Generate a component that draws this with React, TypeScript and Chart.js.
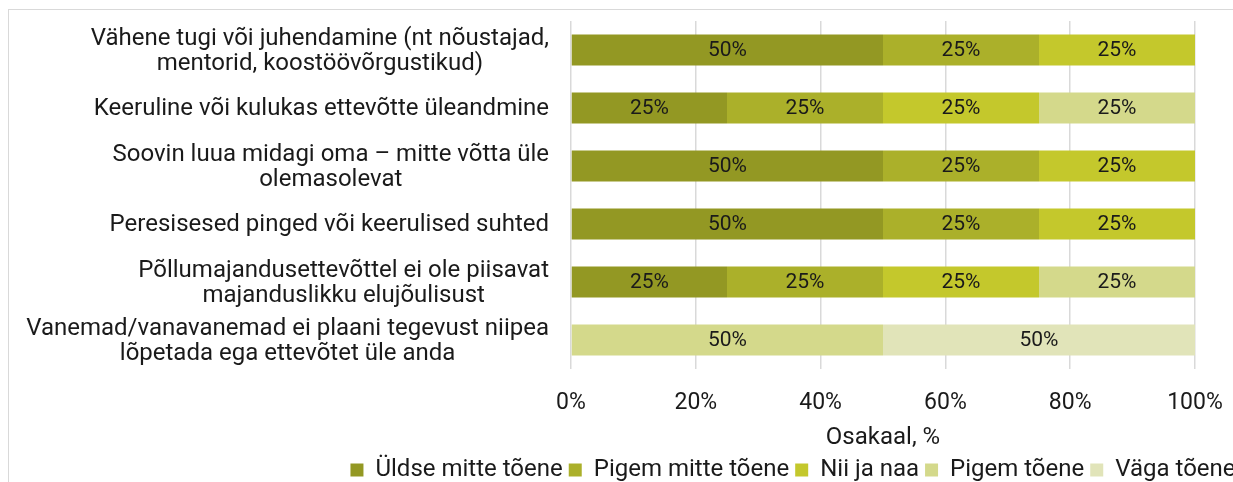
import React, { useEffect, useRef } from "react";
import { Chart, registerables } from "chart.js";

Chart.register(...registerables);

const categories: string[][] = [
  ["Vähene tugi või juhendamine (nt nõustajad,", "mentorid, koostöövõrgustikud)"],
  ["Keeruline või kulukas ettevõtte üleandmine"],
  ["Soovin luua midagi oma – mitte võtta üle", "olemasolevat"],
  ["Peresisesed pinged või keerulised suhted"],
  ["Põllumajandusettevõttel ei ole piisavat", "majanduslikku elujõulisust"],
  ["Vanemad/vanavanemad ei plaani tegevust niipea", "lõpetada ega ettevõtet üle anda"],
];

const seriesNames = ["Üldse mitte tõene", "Pigem mitte tõene", "Nii ja naa", "Pigem tõene", "Väga tõene"];
const uldseMitte = [50, 25, 50, 50, 25, 0];
const pigemMitte = [25, 25, 25, 25, 25, 0];
const niiJaNaa = [25, 25, 25, 25, 25, 0];
const pigemToene = [0, 25, 0, 0, 25, 50];
const vagaToene = [0, 0, 0, 0, 0, 50];
const seriesColors = ["#939823", "#abb02a", "#c4c82c", "#d4d98b", "#e1e4b9"];
const xTicks = [0, 20, 40, 60, 80, 100];

const FONT = "Roboto";
const TEXT = "#1a1a1a";

const yLabelPlugin = {
  id: "yLabelPlugin",
  afterDraw(chart: any) {
    const ctx = chart.ctx;
    const y = chart.scales.y;
    const rightX = chart.chartArea.left - 22;
    const size = 24;
    const lh = 25;
    ctx.save();
    ctx.font = `${size}px ${FONT}`;
    ctx.fillStyle = TEXT;
    ctx.textAlign = "center";
    ctx.textBaseline = "middle";
    categories.forEach((lines, i) => {
      const cy = y.getPixelForValue(i);
      const w = Math.max(...lines.map((l) => ctx.measureText(l).width));
      const cx = rightX - w / 2;
      const start = cy - ((lines.length - 1) * lh) / 2 + 1;
      lines.forEach((l, j) => ctx.fillText(l, cx, start + j * lh));
    });
    ctx.restore();
  },
};

const valueLabelPlugin = {
  id: "valueLabelPlugin",
  afterDatasetsDraw(chart: any) {
    const ctx = chart.ctx;
    ctx.save();
    ctx.font = `21px ${FONT}`;
    ctx.fillStyle = TEXT;
    ctx.textAlign = "center";
    ctx.textBaseline = "middle";
    chart.data.datasets.forEach((ds: any, di: number) => {
      const meta = chart.getDatasetMeta(di);
      meta.data.forEach((el: any, i: number) => {
        const v = ds.data[i];
        if (!v) return;
        const p = el.getProps(["x", "y", "base"], true);
        ctx.fillText(`${v}%`, (p.x + p.base) / 2, p.y + 1);
      });
    });
    ctx.restore();
  },
};

export default function App() {
  const ref = useRef<HTMLCanvasElement>(null);
  useEffect(() => {
    document.documentElement.style.overflow = "hidden";
    const allData = [uldseMitte, pigemMitte, niiJaNaa, pigemToene, vagaToene];
    const chart = new Chart(ref.current!, {
      type: "bar",
      data: {
        labels: categories.map((c) => c.join(" ")),
        datasets: seriesNames.map((name, i) => ({
          label: name,
          data: allData[i],
          backgroundColor: seriesColors[i],
          borderWidth: 0,
          barPercentage: 1,
          categoryPercentage: 0.535,
        })),
      },
      options: {
        indexAxis: "y",
        animation: false,
        responsive: false,
        maintainAspectRatio: false,
        layout: { padding: { top: 11, left: 0, right: 0, bottom: 0 } },
        scales: {
          x: {
            stacked: true,
            min: 0,
            max: 100,
            afterBuildTicks(scale: any) {
              scale.ticks = xTicks.map((v) => ({ value: v }));
            },
            afterFit(scale: any) {
              scale.height = 83;
            },
            grid: { color: "#d9d9d9", lineWidth: 1.5, drawTicks: false },
            border: { display: false },
            ticks: {
              padding: 20,
              color: TEXT,
              font: { family: FONT, size: 23 },
              callback: (v: any) => `${v}%`,
            },
            title: {
              display: true,
              text: "Osakaal, %",
              color: TEXT,
              font: { family: FONT, size: 24, lineHeight: 0.9 },
              padding: { top: 0, bottom: 3 },
            },
          },
          y: {
            stacked: true,
            grid: { display: false },
            border: { display: false },
            ticks: { display: false },
            afterFit(scale: any) {
              scale.width = 562;
            },
          },
          y2: {
            type: "linear",
            position: "right",
            grid: { display: false },
            border: { display: false },
            ticks: { display: false },
            afterFit(scale: any) {
              scale.width = 382;
            },
          },
        },
        plugins: {
          legend: {
            position: "bottom",
            labels: {
              boxWidth: 13,
              boxHeight: 13,
              padding: 6,
              color: TEXT,
              font: { family: FONT, size: 24 },
            },
          },
          tooltip: { enabled: false },
        },
      },
      plugins: [yLabelPlugin, valueLabelPlugin],
    } as any);
    return () => chart.destroy();
  }, []);
  return (
    <div
      style={{
        position: "fixed",
        left: 8,
        top: 9,
        border: "1px solid #d9d9d9",
        width: 1600,
        height: 520,
        boxSizing: "border-box",
      }}
    >
      <canvas ref={ref} width={1568} height={482} style={{ display: "block", width: 1568, height: 482 }} />
    </div>
  );
}
